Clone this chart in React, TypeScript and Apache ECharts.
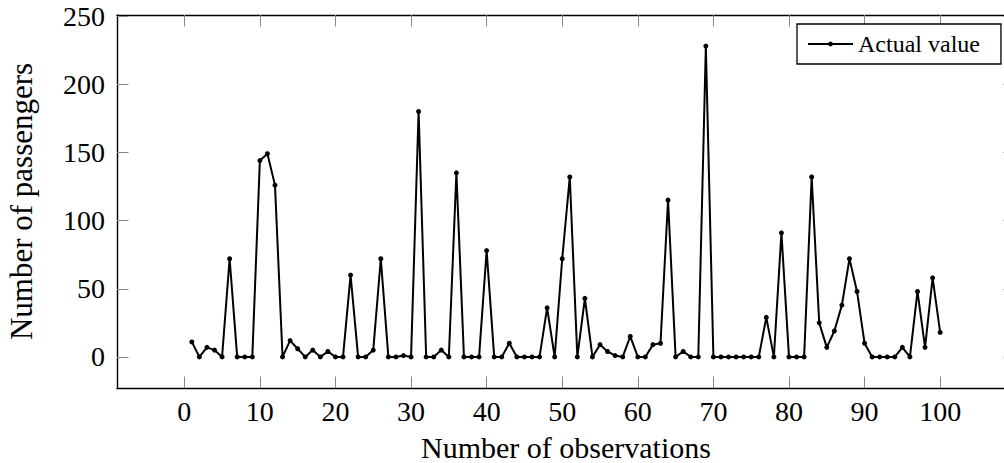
import React, { useEffect, useRef } from "react";
import * as echarts from "echarts";

// Number of passengers for observations 1..100
const passengers: number[] = [
  11, 0, 7, 5, 0, 72, 0, 0, 0, 144,
  149, 126, 0, 12, 6, 0, 5, 0, 4, 0,
  0, 60, 0, 0, 5, 72, 0, 0, 1, 0,
  180, 0, 0, 5, 0, 135, 0, 0, 0, 78,
  0, 0, 10, 0, 0, 0, 0, 36, 0, 72,
  132, 0, 43, 0, 9, 4, 1, 0, 15, 0,
  0, 9, 10, 115, 0, 4, 0, 0, 228, 0,
  0, 0, 0, 0, 0, 0, 29, 0, 91, 0,
  0, 0, 132, 25, 7, 19, 38, 72, 48, 10,
  0, 0, 0, 0, 7, 0, 48, 7, 58, 18,
];

const xTicks: number[] = [0, 10, 20, 30, 40, 50, 60, 70, 80, 90, 100];
const yTicks: number[] = [0, 50, 100, 150, 200, 250];
const seriesName = "Actual value";
const xTitle = "Number of observations";
const yTitle = "Number of passengers";

export default function App() {
  const ref = useRef<HTMLDivElement>(null);

  useEffect(() => {
    if (!ref.current) return;
    const chart = echarts.init(ref.current, null, { renderer: "svg" });
    const font = "'Liberation Serif', 'Times New Roman', serif";
    const axisLine = { show: true, onZero: false, lineStyle: { color: "#000", width: 1.4 } };
    const tick = (vals: number[]) => ({
      show: true,
      inside: true,
      length: 11.5,
      customValues: vals,
      lineStyle: { color: "#888", width: 1 },
    });
    const xMin = -8.9;
    const xMax = 109.9;
    const yMin = -22.8;
    const yMax = 250.8;

    chart.setOption({
      animation: false,
      grid: {
        left: 117,
        top: 15,
        width: 898,
        height: 373,
        containLabel: false,
        outerBoundsMode: "none",
      },
      legend: {
        left: 797,
        top: 24,
        orient: "horizontal",
        borderColor: "#000",
        borderWidth: 1.3,
        borderRadius: 0,
        backgroundColor: "#fff",
        padding: [8, 21, 8, 10],
        itemWidth: 45,
        itemHeight: 6,
        textStyle: { fontFamily: font, fontSize: 24, color: "#000" },
        data: [seriesName],
      },
      xAxis: [
        {
          type: "value",
          position: "bottom",
          min: xMin,
          max: xMax,
          axisLine,
          axisTick: tick(xTicks),
          axisLabel: { customValues: xTicks, fontFamily: font, fontSize: 28, color: "#000", margin: 9 },
          splitLine: { show: false },
          name: xTitle,
          nameLocation: "middle",
          nameGap: 44,
          nameTextStyle: { fontFamily: font, fontSize: 30, color: "#000", lineHeight: 30 },
        },
        {
          type: "value",
          position: "top",
          min: xMin,
          max: xMax,
          axisLine,
          axisTick: tick(xTicks),
          axisLabel: { show: false },
          splitLine: { show: false },
        },
      ],
      yAxis: [
        {
          type: "value",
          position: "left",
          min: yMin,
          max: yMax,
          axisLine,
          axisTick: tick(yTicks),
          axisLabel: { customValues: yTicks, fontFamily: font, fontSize: 28, color: "#000", margin: 12 },
          splitLine: { show: false },
          name: yTitle,
          nameLocation: "middle",
          nameRotate: 90,
          nameGap: 80,
          nameTextStyle: { fontFamily: font, fontSize: 31, color: "#000" },
        },
        {
          type: "value",
          position: "right",
          min: yMin,
          max: yMax,
          axisLine,
          axisTick: tick(yTicks),
          axisLabel: { show: false },
          splitLine: { show: false },
        },
      ],
      series: [
        {
          type: "line",
          name: seriesName,
          xAxisIndex: 0,
          yAxisIndex: 0,
          data: passengers.map((v, i) => [i + 1, v]),
          symbol: "circle",
          symbolSize: 5,
          showSymbol: true,
          showAllSymbol: true,
          lineStyle: { color: "#000", width: 2 },
          itemStyle: { color: "#000" },
        },
      ],
    });

    return () => chart.dispose();
  }, []);

  return (
    <div
      style={{
        position: "fixed",
        left: 0,
        top: 0,
        width: 1004,
        height: 463,
        overflow: "hidden",
        background: "#fff",
      }}
    >
      <div ref={ref} style={{ width: 1030, height: 463 }} />
    </div>
  );
}
